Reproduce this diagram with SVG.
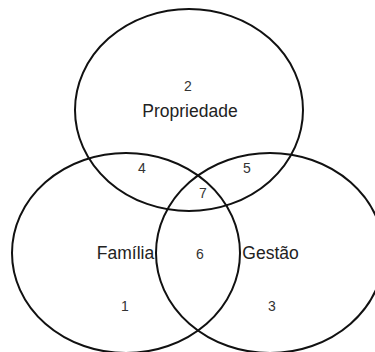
<svg xmlns="http://www.w3.org/2000/svg" width="375" height="352" viewBox="0 0 375 352">
<style>
.c{fill:none;stroke:#111;stroke-width:2}
.lbl{font-family:"Liberation Sans",Arial,sans-serif;font-size:17.5px;fill:#222;text-anchor:middle}
.num{font-family:"Liberation Sans",Arial,sans-serif;font-size:14px;fill:#333;text-anchor:middle}
</style>
<rect width="375" height="352" fill="#fff"/>
<g id="propriedade">
<ellipse class="c" cx="189" cy="110" rx="114" ry="101"/>
<text class="num" x="188" y="91">2</text>
<text class="lbl" x="190" y="117">Propriedade</text>
</g>
<g id="familia">
<ellipse class="c" cx="126" cy="253" rx="114" ry="100"/>
<text class="lbl" x="125.5" y="259">Família</text>
<text class="num" x="125" y="311">1</text>
</g>
<g id="gestao">
<ellipse class="c" cx="270" cy="253" rx="114" ry="100"/>
<text class="lbl" x="270.5" y="259">Gestão</text>
<text class="num" x="272" y="311">3</text>
</g>
<g id="intersections">
<text class="num" x="142" y="173">4</text>
<text class="num" x="247" y="173">5</text>
<text class="num" x="203" y="198">7</text>
<text class="num" x="200" y="259">6</text>
</g>
<g id="connectors"/>
</svg>
